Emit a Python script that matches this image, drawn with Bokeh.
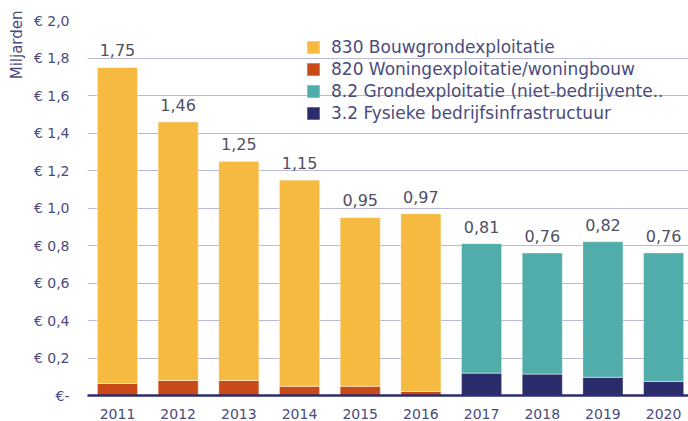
import math
from bokeh.plotting import figure
from bokeh.models import (Range1d, FixedTicker, CustomJSTickFormatter, Legend, LegendItem,
                          ColumnDataSource, Title)
from bokeh.core.properties import value
from bokeh.embed import file_html
from bokeh.resources import INLINE

years = ["2011", "2012", "2013", "2014", "2015", "2016", "2017", "2018", "2019", "2020"]
totals = [1.75, 1.46, 1.25, 1.15, 0.95, 0.97, 0.81, 0.76, 0.82, 0.76]
woning = [0.064, 0.08, 0.08, 0.05, 0.05, 0.022, 0, 0, 0, 0]          # 820
fysiek = [0, 0, 0, 0, 0, 0, 0.12, 0.115, 0.098, 0.076]              # 3.2
bouwgrond = [1.686, 1.38, 1.17, 1.10, 0.90, 0.948, 0, 0, 0, 0]      # 830
grondexpl = [0, 0, 0, 0, 0, 0, 0.69, 0.645, 0.722, 0.684]           # 8.2
series_names = ["830 Bouwgrondexploitatie", "820 Woningexploitatie/woningbouw",
                "8.2 Grondexploitatie (niet-bedrijvente..", "3.2 Fysieke bedrijfsinfrastructuur"]
y_ticks = [0, 0.2, 0.4, 0.6, 0.8, 1.0, 1.2, 1.4, 1.6, 1.8, 2.0]

FONT = "DejaVu Sans"
SLATE = "#4b4b7c"
C_BOUW = "#F5BA3F"
C_WON = "#C84A19"
C_GROND = "#50ADA9"
C_FYS = "#2B2C6B"

x = list(range(len(years)))
src = ColumnDataSource(dict(x=x, woning=woning, fysiek=fysiek, bouwgrond=bouwgrond,
                            grondexpl=grondexpl, totals=totals,
                            lbl=[f"{v:.2f}".replace(".", ",") for v in totals]))

p = figure(width=688, height=421, output_backend="svg", toolbar_location=None,
           x_range=Range1d(-0.494, 9.41), y_range=Range1d(0, 2.0),
           min_border_left=86, min_border_right=0, min_border_top=20, min_border_bottom=26)
p.outline_line_color = None
p.background_fill_color = "white"

r = p.vbar_stack(["woning", "fysiek", "bouwgrond", "grondexpl"], x="x", width=0.66, source=src,
                 color=[C_WON, C_FYS, C_BOUW, C_GROND], line_color="white", line_alpha=0.35,
                 line_width=1)

p.text(x="x", y="totals", text="lbl", source=src, text_align="center", text_baseline="bottom",
       y_offset=-11, text_font=value(FONT), text_font_size="16px", text_color="#505062")

p.xgrid.visible = False
p.ygrid.grid_line_color = "#b9b9d4"
p.ygrid.grid_line_width = 1
p.yaxis.ticker = FixedTicker(ticks=y_ticks)
p.yaxis.formatter = CustomJSTickFormatter(
    code='return tick == 0 ? "€-" : "€ " + tick.toFixed(1).replace(".", ",");')
p.yaxis.axis_line_color = None
p.yaxis.major_tick_line_color = None
p.yaxis.minor_tick_line_color = None
p.yaxis.major_label_standoff = 12
p.yaxis.major_label_text_font = FONT
p.yaxis.major_label_text_font_size = "14px"
p.yaxis.major_label_text_color = SLATE

p.xaxis.ticker = FixedTicker(ticks=x)
p.xaxis.major_label_overrides = {i: y for i, y in enumerate(years)}
p.xaxis.axis_line_color = C_FYS
p.xaxis.axis_line_width = 2.5
p.xaxis.major_tick_line_color = None
p.xaxis.minor_tick_line_color = None
p.xaxis.major_label_standoff = 7
p.xaxis.major_label_text_font = FONT
p.xaxis.major_label_text_font_size = "14px"
p.xaxis.major_label_text_color = SLATE

p.add_layout(Title(text="Miljarden", align="right", text_font=FONT, text_font_size="15px",
                   text_font_style="normal", text_color=SLATE, offset=-10), "left")

legend = Legend(items=[LegendItem(label=series_names[0], renderers=[r[2]]),
                       LegendItem(label=series_names[1], renderers=[r[0]]),
                       LegendItem(label=series_names[2], renderers=[r[3]]),
                       LegendItem(label=series_names[3], renderers=[r[1]])],
                location=(218, 271), padding=0, margin=0, spacing=0,
                glyph_width=16, glyph_height=16, label_height=22, label_standoff=10,
                label_text_font=FONT, label_text_font_size="17px", label_text_color=SLATE,
                background_fill_alpha=0, border_line_color=None)
p.add_layout(legend, "center")

open("out.html", "w").write(file_html(p, INLINE))
